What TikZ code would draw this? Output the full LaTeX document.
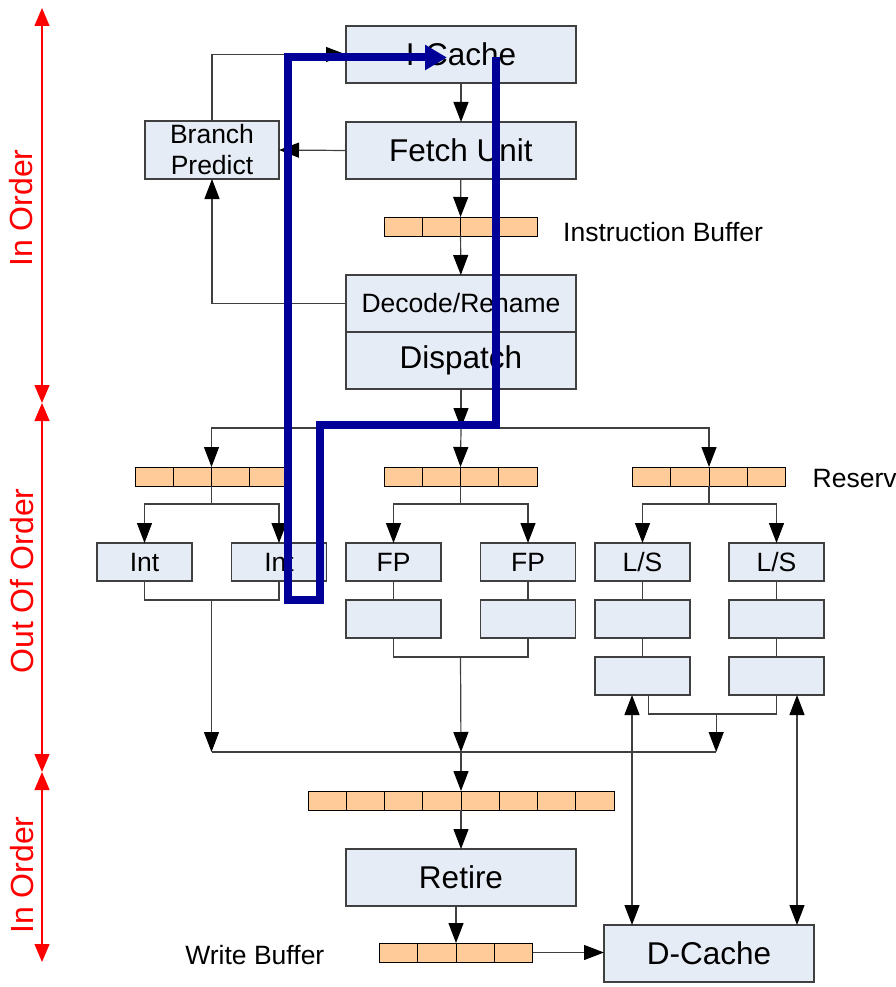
\documentclass[tikz,border=0pt]{standalone}
\usepackage{fontspec}
\setmainfont{Liberation Sans}
\usepackage{tikz}
\usetikzlibrary{arrows.meta,positioning,calc}
\definecolor{boxblue}{RGB}{230,236,246}
\definecolor{bufferorange}{RGB}{255,204,153}
\definecolor{edgegray}{RGB}{64,64,64}
\definecolor{pathblue}{RGB}{0,0,153}

\tikzset{
    unit/.style={draw=edgegray, line width=1.2pt, fill=boxblue, inner sep=0pt, outer sep=0pt, align=center},
    wideunit/.style={unit, minimum width=230pt, minimum height=57pt, font=\fontsize{31.5}{36}\selectfont},
    smallunit/.style={unit, minimum width=95pt, minimum height=38pt, font=\fontsize{26.5}{31}\selectfont},
    buffer/.style={draw=black, line width=1pt, fill=bufferorange, inner sep=0pt, outer sep=0pt, minimum height=19pt},
    note/.style={inner sep=0pt, font=\fontsize{26.5}{31}\selectfont},
    stage/.style={inner sep=0pt, text=red, rotate=90, font=\fontsize{32}{36}\selectfont},
    link/.style={draw=edgegray, line width=1.2pt},
    flow/.style={link, -{Triangle[length=20pt,width=15pt,color=black]}},
    both/.style={link, {Triangle[length=20pt,width=15pt,color=black]}-{Triangle[length=20pt,width=15pt,color=black]}},
    span/.style={red, line width=1.2pt, {Triangle[length=18pt,width=15pt]}-{Triangle[length=18pt,width=15pt]}},
    mispredict/.style={pathblue, line width=8pt, miter limit=10, -{Triangle[length=22pt,width=24pt]}}
}

% buffer row: name, centre, cells, last divider
\newcommand{\bufrow}[4]{%
    \node[buffer, minimum width=#3*38.25pt] (#1) at (#2) {};
    \foreach \k in {1,...,#4}
        \draw[black, line width=1pt] ($(#1.south west)+(\k*38.25,0)$) -- ($(#1.north west)+(\k*38.25,0)$);
}

\begin{document}
\begin{tikzpicture}[x=1pt, y=-1pt]
    \useasboundingbox (0,0) rectangle (895,987);

    % in-order front end
    \node[wideunit] (icache) at (461,54.5) {I-Cache};
    \node[wideunit] (fetch) at (461,150.5) {Fetch Unit};
    \node[unit, minimum width=134pt, minimum height=58pt, font=\fontsize{26.5}{31}\selectfont] (bpred) at (212,150) {Branch\\Predict};
    \bufrow{ibuf}{460.5,226.5}{4}{3}
    \node[note, right=26pt of ibuf, yshift=-6pt] (ibuflabel) {Instruction Buffer};
    \node[wideunit, font=\fontsize{26.5}{31}\selectfont] (decode) at (461,303.5) {Decode/Rename};
    \node[wideunit] (dispatch) at (461,360.5) {Dispatch};

    \draw[flow] (icache) -- (fetch);
    \draw[flow] (fetch) -- (ibuf);
    \draw[flow] (ibuf) -- (decode);
    \draw[flow] (fetch.west) -- (bpred.east);
    \draw[flow] (bpred.north) |- (icache.west);
    \draw[flow] (decode.west) -| (bpred.south);

    % reservation stations
    \bufrow{rsA}{211.5,476.5}{4}{3}
    \bufrow{rsB}{460.5,476.5}{4}{3}
    \bufrow{rsC}{709,476.5}{4}{3}
    \node[note, right=27pt of rsC, yshift=-2pt] (rslabel) {Reserv};

    \coordinate (split) at (461,428);
    \draw[flow] (dispatch) -- (split);
    \draw[flow] (split) -| (rsA.north);
    \draw[flow] (split) -- (rsB.north);
    \draw[flow] (split) -| (rsC.north);

    % execution units
    \node[smallunit] (intA) at (144.5,562) {Int};
    \node[smallunit] (intB) at (279,562) {Int};
    \node[smallunit] (fpA) at (393.5,562) {FP};
    \node[smallunit] (fpB) at (528,562) {FP};
    \node[smallunit] (lsA) at (642.5,562) {L/S};
    \node[smallunit] (lsB) at (776.5,562) {L/S};
    \node[smallunit] (fpA2) at (393.5,619) {};
    \node[smallunit] (fpB2) at (528,619) {};
    \node[smallunit] (lsA2) at (642.5,619) {};
    \node[smallunit] (lsB2) at (776.5,619) {};
    \node[smallunit] (lsA3) at (642.5,676) {};
    \node[smallunit] (lsB3) at (776.5,676) {};

    \foreach \rs/\ua/\ub in {rsA/intA/intB, rsB/fpA/fpB, rsC/lsA/lsB} {
        \draw[link] (\rs.south) -- ++(0,18) coordinate (j\rs);
        \draw[flow] (j\rs) -| (\ua.north);
        \draw[flow] (j\rs) -| (\ub.north);
    }
    \draw[link] (fpA) -- (fpA2);
    \draw[link] (fpB) -- (fpB2);
    \draw[link] (lsA) -- (lsA2) -- (lsA3);
    \draw[link] (lsB) -- (lsB2) -- (lsB3);

    % results gathered
    \coordinate (merge) at (461,752);
    \coordinate (intout) at ($(rsA.south |- intA.south)+(0,19)$);
    \coordinate (fpout) at ($(rsB.south |- fpA2.south)+(0,19)$);
    \coordinate (lsout) at ($(lsA3.south)!0.55!(lsB3.south)+(0,19)$);
    \draw[link] (intA.south) |- (intout) -| (intB.south);
    \draw[link] (fpA2.south) |- (fpout) -| (fpB2.south);
    \draw[link] ($(lsA3.south)+(6,0)$) |- (lsout) -| (lsB3.south);
    \draw[link] (intout |- merge) -- (lsout |- merge);
    \draw[flow] (intout) -- (intout |- merge);
    \draw[flow] (fpout) -- (merge);
    \draw[flow] (lsout) -- (lsout |- merge);

    % in-order back end
    \bufrow{rob}{461,800.5}{8}{7}
    \node[wideunit] (retire) at (461,877.5) {Retire};
    \bufrow{wbuf}{456,952.5}{4}{3}
    \node[note, left=55pt of wbuf, yshift=-3pt] (wbuflabel) {Write Buffer};
    \node[unit, minimum width=210pt, minimum height=57pt, font=\fontsize{31.5}{36}\selectfont] (dcache) at (709,953.5) {D-Cache};

    \draw[flow] (merge) -- (rob.north);
    \draw[flow] (rob) -- (retire);
    \draw[flow] (retire.south -| wbuf.north) -- (wbuf.north);
    \draw[flow] (wbuf.east) -- (wbuf.east -| dcache.west);
    \coordinate (memA) at ($(lsA3.south)+(-10.5,0)$);
    \coordinate (memB) at ($(lsB3.south)+(20.5,0)$);
    \draw[both] (memA) -- (memA |- dcache.north);
    \draw[both] (memB) -- (memB |- dcache.north);

    % stage markers
    \coordinate (ioTop) at (42,8);
    \coordinate (ooTop) at (42,403);
    \coordinate (ooBot) at (42,772);
    \coordinate (ioBot) at (42,962);
    \draw[span] (ioTop) -- (ooTop);
    \draw[span] (ooTop) -- (ooBot);
    \draw[span] (ooBot) -- (ioBot);
    \node[stage] (frontlabel) at (21,208) {In Order};
    \node[stage] (ooolabel) at (22,581) {Out Of Order};
    \node[stage] (backlabel) at (22,875) {In Order};

    % mispredict loop
    \coordinate (loopstart) at (496,57.5);
    \coordinate (loopend) at (447,57.5);
    \draw[mispredict] (loopstart) -- (496,425) -- (320,425) -- (320,600) -- (288,600) -- (288,57.5) -- (loopend);
\end{tikzpicture}
\end{document}
